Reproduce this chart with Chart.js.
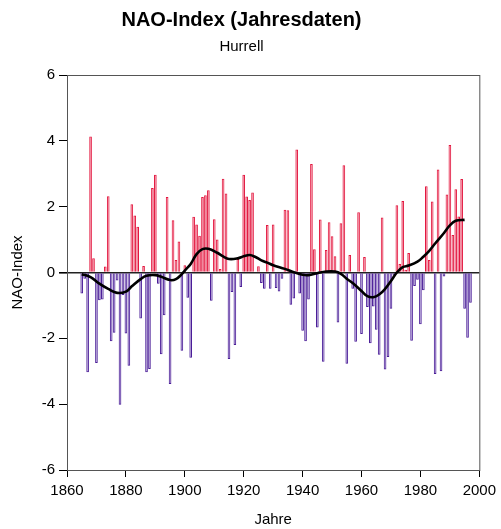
<!DOCTYPE html>
<html>
<head>
<meta charset="utf-8">
<script src="https://cdn.jsdelivr.net/npm/chart.js@4"></script>
<style>
  html, body { margin: 0; padding: 0; background: #fff; }
  #wrap { width: 501px; height: 529px; }
</style>
</head>
<body>
<div id="wrap"><canvas id="naoChart" width="501" height="529"></canvas></div>
<script>
// yearly index values, 1865-1997
const firstYear = 1865;
const naoValues = [
  -0.64, -0.19, -3.03, 4.13, 0.43,                              // 1865-1869
  -2.75, -0.84, -0.82, 0.18, 2.32, -2.09, -1.83, -0.24, -4.02, -0.68, // 1870s
  -1.85, -2.83, 2.07, 1.73, 1.39, -1.40, 0.20, -3.03, -2.93, 2.57,    // 1880s
  2.97, -0.34, -2.48, -1.30, 2.29, -3.39, 1.59, 0.38, 0.94, -2.38,    // 1890s
  0.22, -0.77, -2.59, 1.69, 1.46, 1.12, 2.29, 2.35, 2.50, -0.86,      // 1900s
  1.62, 1.00, 0.11, 2.85, 2.40, -2.63, -0.59, -2.20, 0.41, -0.44,     // 1910s
  2.97, 2.31, 2.20, 2.43, 0.02, 0.19, -0.32, -0.49, 1.44, -0.49,      // 1920s
  1.46, -0.47, -0.58, -0.19, 1.91, 1.89, -0.98, -0.79, 3.74, -0.64,   // 1930s
  -1.77, -2.09, -0.82, 3.30, 0.71, -1.67, 1.61, -2.71, 0.68, 1.53,    // 1940s
  1.10, 0.49, -1.52, 1.50, 3.26, -2.77, 0.53, -0.49, -2.10, 1.83,     // 1950s
  -1.87, 0.47, -1.05, -2.15, -1.03, -1.74, -2.50, 1.67, -2.95, -2.57, // 1960s
  -1.10, -0.09, 2.04, 0.26, 2.17, 0.08, 0.59, -2.07, -0.41, -0.22,    // 1970s
  -1.57, -0.54, 2.62, 0.38, 2.16, -3.08, 3.13, -3.00, -0.12, 2.37,    // 1980s
  3.87, 1.14, 2.53, 1.70, 2.84, -1.10, -1.98, -0.92                   // 1990-1997
];

// smoothed curve
const smoothYears = [1865, 1868, 1871, 1874, 1877, 1880, 1882, 1885, 1887, 1890, 1892, 1895,
  1897, 1899, 1900, 1902, 1904, 1906, 1908, 1911, 1913, 1915, 1918, 1920, 1922, 1924, 1926,
  1928, 1930, 1934, 1937, 1940, 1942, 1945, 1948, 1951, 1953, 1955, 1957, 1960, 1962, 1964,
  1966, 1968, 1970, 1972, 1974, 1976, 1979, 1981, 1983, 1985, 1988, 1990, 1992, 1995];
const smoothValues = [-0.05, -0.14, -0.34, -0.50, -0.62, -0.58, -0.42, -0.20, -0.10, -0.08, -0.13, -0.23,
  -0.20, -0.05, 0.06, 0.26, 0.56, 0.71, 0.72, 0.60, 0.49, 0.41, 0.43, 0.49, 0.53, 0.47, 0.37,
  0.30, 0.22, 0.11, 0.01, -0.07, -0.08, -0.02, 0.03, 0.03, -0.04, -0.19, -0.32, -0.56, -0.72, -0.75,
  -0.67, -0.50, -0.26, 0.00, 0.16, 0.21, 0.33, 0.48, 0.66, 0.88, 1.20, 1.43, 1.57, 1.60];

const xTicks = [1860, 1880, 1900, 1920, 1940, 1960, 1980, 2000];
const yTicks = [-6, -4, -2, 0, 2, 4, 6];

const barData = naoValues.map((v, i) => ({ x: firstYear + i, y: v }));
const lineData = smoothYears.map((yr, i) => ({ x: yr, y: smoothValues[i] }));

const POS_FILL = "rgba(238,96,122,0.7)", POS_LINE = "#e3173f";
const NEG_FILL = "rgba(128,96,186,0.5)", NEG_LINE = "#4a1d98";

Chart.defaults.font.family = "'Liberation Sans', Arial, sans-serif";
Chart.defaults.color = "#000";

// frame around the plotting area
const frame = {
  id: "frame",
  afterDatasetsDraw(chart) {
    const { ctx, chartArea: a } = chart;
    ctx.save();
    ctx.strokeStyle = "#555";
    ctx.lineWidth = 1;
    ctx.strokeRect(a.left + 0.5, a.top + 0.5, a.right - a.left, a.bottom - a.top);
    ctx.restore();
  }
};

new Chart(document.getElementById("naoChart"), {
  type: "bar",
  data: {
    datasets: [
      {
        type: "line",
        data: lineData,
        borderColor: "#000",
        borderWidth: 2.6,
        pointRadius: 0,
        tension: 0.4,
        fill: false,
        order: 0
      },
      {
        type: "bar",
        data: barData,
        backgroundColor: naoValues.map(v => v >= 0 ? POS_FILL : NEG_FILL),
        borderColor: naoValues.map(v => v >= 0 ? POS_LINE : NEG_LINE),
        borderWidth: 1,
        barPercentage: 0.9,
        categoryPercentage: 1,
        order: 1
      }
    ]
  },
  options: {
    responsive: false,
    animation: false,
    layout: { padding: { left: 0, right: 18, top: 0, bottom: 0 } },
    plugins: {
      legend: { display: false },
      tooltip: { enabled: false },
      title: {
        display: true,
        text: "NAO-Index (Jahresdaten)",
        font: { size: 20, weight: "bold" },
        color: "#000",
        padding: { top: 8, bottom: 0 }
      },
      subtitle: {
        display: true,
        text: "Hurrell",
        font: { size: 15 },
        color: "#000",
        padding: { top: 6, bottom: 19 }
      }
    },
    scales: {
      x: {
        type: "linear",
        offset: false,
        min: 1860,
        max: 2000,
        afterBuildTicks(s) { s.ticks = xTicks.map(v => ({ value: v })); },
        afterFit(s) { s.height = 59; },
        ticks: { font: { size: 15 }, color: "#000", padding: 5, maxRotation: 0, callback: v => String(v) },
        grid: { offset: false, drawOnChartArea: false, drawTicks: true, tickLength: 7, tickColor: "#000" },
        border: { display: false },
        title: { display: true, text: "Jahre", font: { size: 15 }, color: "#000", padding: { top: 0, bottom: 0 } }
      },
      y: {
        min: -6,
        max: 6,
        afterBuildTicks(s) { s.ticks = yTicks.map(v => ({ value: v })); },
        afterFit(s) { s.width = 67; },
        ticks: { font: { size: 15 }, color: "#000", padding: 4 },
        grid: {
          drawOnChartArea: true,
          drawTicks: true,
          tickLength: 8,
          tickColor: "#000",
          color: c => c.tick && c.tick.value === 0 ? "#222" : "rgba(0,0,0,0)",
          lineWidth: c => c.tick && c.tick.value === 0 ? 1.6 : 1
        },
        border: { display: false },
        title: { display: true, text: "NAO-Index", font: { size: 15 }, color: "#000", padding: { top: 9, bottom: 0 } }
      }
    }
  },
  plugins: [frame]
});
</script>
</body>
</html>
